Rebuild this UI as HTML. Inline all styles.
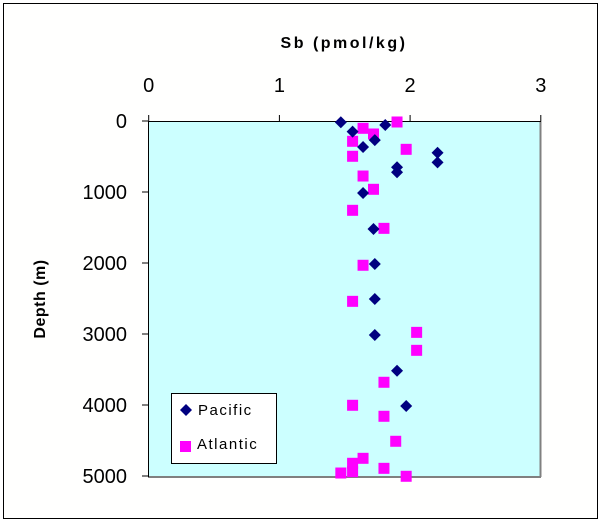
<!DOCTYPE html>
<html><head><meta charset="utf-8"><style>
html,body{margin:0;padding:0;background:#fff;}
svg{display:block;font-family:"Liberation Sans",Arial,sans-serif;}
</style></head><body>
<svg width="603" height="523" viewBox="0 0 603 523">
<rect x="3.5" y="3.5" width="594" height="515" fill="#fffffe" stroke="#000"/>
<rect x="149" y="121" width="391" height="355" fill="#ccffff"/>
<line x1="540.5" y1="121" x2="540.5" y2="477" stroke="#808080" stroke-width="2"/>
<line x1="148" y1="477" x2="541" y2="477" stroke="#808080" stroke-width="2"/>
<g id="axes"></g>
<g id="marks"></g>
<text x="344" y="48" text-anchor="middle" font-size="16" font-weight="bold" letter-spacing="2.5">Sb (pmol/kg)</text>
<text transform="translate(45,299) rotate(-90)" text-anchor="middle" font-size="16" font-weight="bold" letter-spacing="0.5">Depth (m)</text>
<g>
<rect x="171.5" y="393.5" width="105" height="70" fill="#fff" stroke="#000"/>
<path d="M186,404 l6,6 l-6,6 l-6,-6z" fill="#000080"/>
<text x="198" y="415" font-size="15" letter-spacing="1.5">Pacific</text>
<rect x="180" y="441" width="11" height="11" fill="#ff00ff"/>
<text x="197" y="449" font-size="15" letter-spacing="1.5">Atlantic</text>
</g>
</svg>
<script>
const xTicks=[0,1,2,3];
const yTicks=[0,1000,2000,3000,4000,5000];
const pacificSb=[1.47,1.56,1.81,1.73,1.64,2.21,2.21,1.90,1.90,1.64,1.72,1.73,1.73,1.73,1.90,1.97];
const pacificDepth=[18,150,56,270,366,447,583,651,721,1014,1521,2014,2507,3014,3517,4014];
const atlanticSb=[1.90,1.64,1.72,1.56,1.97,1.56,1.64,1.72,1.56,1.80,1.64,1.56,2.05,2.05,1.80,1.56,1.80,1.89,1.64,1.56,1.47,1.56,1.80,1.97];
const atlanticDepth=[14,103,183,286,399,497,775,962,1258,1512,2032,2540,2977,3230,3680,4004,4159,4511,4751,4821,4958,4939,4892,5004];
const NS='http://www.w3.org/2000/svg';
const X=v=>148.7+v*130.7;
const Y=d=>121+d*0.071;
function mk(tag,attrs,parent){const e=document.createElementNS(NS,tag);for(const k in attrs)e.setAttribute(k,attrs[k]);parent.appendChild(e);return e;}
const axes=document.getElementById('axes'),marks=document.getElementById('marks');
mk('line',{x1:148,y1:121.5,x2:541,y2:121.5,stroke:'#000'},axes);
mk('line',{x1:148.5,y1:121,x2:148.5,y2:477,stroke:'#000'},axes);
xTicks.forEach(t=>{
  const l=mk('line',{x1:X(t),y1:115,x2:X(t),y2:121,stroke:'#000'},axes);
  
  
  const tx=mk('text',{x:X(t),y:92,'text-anchor':'middle','font-size':'20'},axes);
  tx.textContent=t;
  
  
});
yTicks.forEach(t=>{
  const l=mk('line',{x1:142,y1:Y(t),x2:148,y2:Y(t),stroke:'#000'},axes);
  
  
  const tx=mk('text',{x:127,y:Y(t)+7,'text-anchor':'end','font-size':'20'},axes);
  tx.textContent=t;
  
  
});
atlanticSb.forEach((v,i)=>{
  const r=mk('rect',{x:X(v)-5.5,y:Y(atlanticDepth[i])-5.5,width:11,height:11,fill:'#ff00ff'},marks);
  
  
});
pacificSb.forEach((v,i)=>{
  const x=X(v),y=Y(pacificDepth[i]);
  const p=mk('path',{d:`M${x},${y-6} L${x+6},${y} L${x},${y+6} L${x-6},${y}Z`,fill:'#000080'},marks);
  
  
});
</script>
</body></html>
